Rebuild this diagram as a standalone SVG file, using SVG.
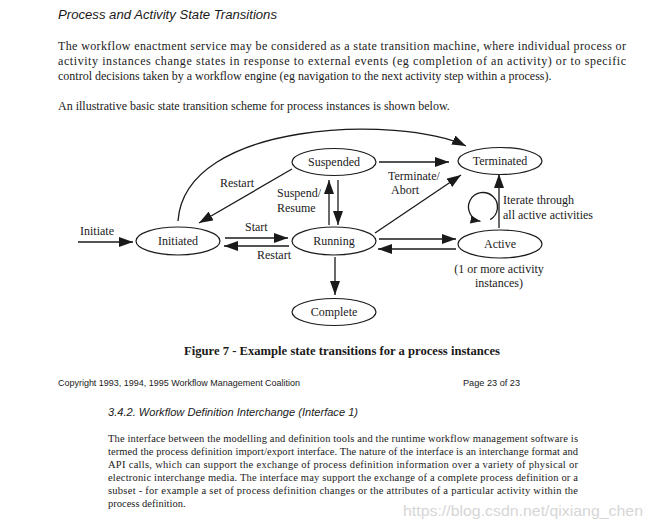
<svg xmlns="http://www.w3.org/2000/svg" width="645" height="528" viewBox="0 0 645 528">
<defs>
<style>
.serif{font-family:"Liberation Serif","Times New Roman",serif;fill:#1a1a1a}
.sans{font-family:"Liberation Sans",Arial,sans-serif;fill:#1a1a1a}
.p1{font-size:12px}
.p2{font-size:10.5px}
.lbl{font-size:12px;font-family:"Liberation Serif","Times New Roman",serif;fill:#1a1a1a}
.node ellipse{fill:#fff;stroke:#1a1a1a;stroke-width:1.2}
.node text{font-size:12px;font-family:"Liberation Serif","Times New Roman",serif;fill:#1a1a1a;text-anchor:middle}
.edge{fill:none;stroke:#1a1a1a;stroke-width:1.3}
</style>
<marker id="ah" viewBox="0 0 14 10" refX="14" refY="5" markerWidth="14" markerHeight="10" markerUnits="userSpaceOnUse" orient="auto">
<path d="M0,0 L14,5 L0,10 z" fill="#1a1a1a"/>
</marker>
<marker id="ahs" viewBox="0 0 10 8" refX="10" refY="4" markerWidth="10" markerHeight="8" markerUnits="userSpaceOnUse" orient="auto">
<path d="M0,0 L10,4 L0,8 z" fill="#1a1a1a"/>
</marker>
</defs>
<rect width="645" height="528" fill="#fff"/>

<text class="sans" x="58" y="19" font-size="12.5" font-style="italic" textLength="219" lengthAdjust="spacingAndGlyphs">Process and Activity State Transitions</text>

<g class="serif p1">
<text x="58" y="50" textLength="568" lengthAdjust="spacing">The workflow enactment service may be considered as a state transition machine, where individual process or</text>
<text x="58" y="65" textLength="568" lengthAdjust="spacing">activity instances change states in response to external events (eg completion of an activity) or to specific</text>
<text x="58" y="80">control decisions taken by a workflow engine (eg navigation to the next activity step within a process).</text>
<text x="58" y="110">An illustrative basic state transition scheme for process instances is shown below.</text>
</g>

<g id="connectors">
<path class="edge" d="M178,221 C185,120 400,115 466,146" marker-end="url(#ah)"/>
<line class="edge" x1="78" y1="242" x2="133" y2="242" marker-end="url(#ah)"/>
<line class="edge" x1="225" y1="238" x2="288" y2="238" marker-end="url(#ah)"/>
<line class="edge" x1="289" y1="246" x2="224" y2="246" marker-end="url(#ah)"/>
<line class="edge" x1="292" y1="169" x2="199" y2="223" marker-end="url(#ah)"/>
<line class="edge" x1="329" y1="225" x2="329" y2="180" marker-end="url(#ah)"/>
<line class="edge" x1="338" y1="180" x2="338" y2="225" marker-end="url(#ah)"/>
<line class="edge" x1="379" y1="162" x2="449" y2="162" marker-end="url(#ah)"/>
<line class="edge" x1="375" y1="233" x2="461" y2="175" marker-end="url(#ah)"/>
<line class="edge" x1="379" y1="239" x2="456" y2="239" marker-end="url(#ah)"/>
<line class="edge" x1="456" y1="249" x2="378" y2="249" marker-end="url(#ah)"/>
<line class="edge" x1="335" y1="257" x2="335" y2="295" marker-end="url(#ah)"/>
<line class="edge" x1="499" y1="228" x2="499" y2="174" marker-end="url(#ah)"/>
<path class="edge" d="M490.2,219.6 A14.5,14.5 0 1 0 480.5,221.3" marker-end="url(#ahs)"/>
</g>

<g id="labels">
<text class="lbl" x="80" y="235">Initiate</text>
<text class="lbl" x="220" y="187">Restart</text>
<text class="lbl" x="245" y="231">Start</text>
<text class="lbl" x="257" y="259">Restart</text>
<text class="lbl" x="277" y="197">Suspend/</text>
<text class="lbl" x="277" y="212">Resume</text>
<text class="lbl" x="388" y="180">Terminate/</text>
<text class="lbl" x="391" y="194">Abort</text>
<text class="lbl" x="503" y="204">Iterate through</text>
<text class="lbl" x="503" y="219">all active activities</text>
<text class="lbl" x="499" y="273" text-anchor="middle">(1 or more activity</text>
<text class="lbl" x="499" y="287" text-anchor="middle">instances)</text>
</g>

<g id="node-initiated" class="node"><ellipse cx="178" cy="241" rx="42" ry="14"/><text x="178" y="245">Initiated</text></g>
<g id="node-suspended" class="node"><ellipse cx="334" cy="162" rx="42" ry="13.5"/><text x="334" y="166">Suspended</text></g>
<g id="node-running" class="node"><ellipse cx="334" cy="241" rx="42" ry="14"/><text x="334" y="245">Running</text></g>
<g id="node-terminated" class="node"><ellipse cx="500" cy="161" rx="42" ry="13.5"/><text x="500" y="165">Terminated</text></g>
<g id="node-active" class="node"><ellipse cx="500" cy="244" rx="42" ry="14"/><text x="500" y="248">Active</text></g>
<g id="node-complete" class="node"><ellipse cx="334" cy="312" rx="42" ry="13.5"/><text x="334" y="316">Complete</text></g>

<text class="serif" x="342" y="355" font-size="12.5" font-weight="bold" text-anchor="middle" textLength="316" lengthAdjust="spacingAndGlyphs">Figure 7 - Example state transitions for a process instances</text>

<text class="sans" x="58" y="386" font-size="9" textLength="242" lengthAdjust="spacingAndGlyphs">Copyright 1993, 1994, 1995 Workflow Management Coalition</text>
<text class="sans" x="463" y="386" font-size="9" textLength="57" lengthAdjust="spacingAndGlyphs">Page 23 of 23</text>

<text class="sans" x="108" y="416" font-size="10.5" font-style="italic" textLength="250" lengthAdjust="spacingAndGlyphs">3.4.2.  Workflow Definition Interchange (Interface 1)</text>

<g class="serif p2">
<text x="108" y="442" textLength="470" lengthAdjust="spacing">The interface between the modelling and definition tools and the runtime workflow management software is</text>
<text x="108" y="455" textLength="470" lengthAdjust="spacing">termed the process definition import/export interface. The nature of the interface is an interchange format and</text>
<text x="108" y="468" textLength="470" lengthAdjust="spacing">API calls, which can support the exchange of process definition information over a variety of physical or</text>
<text x="108" y="481" textLength="470" lengthAdjust="spacing">electronic interchange media.  The interface may support the exchange of a complete process definition or a</text>
<text x="108" y="494" textLength="470" lengthAdjust="spacing">subset - for example a set of process definition changes or the attributes of a particular activity within the</text>
<text x="108" y="507">process definition.</text>
</g>

<text class="sans" x="403" y="516" font-size="14" style="fill:#d6d6d6" textLength="240" lengthAdjust="spacingAndGlyphs">https://blog.csdn.net/qixiang_chen</text>
</svg>
